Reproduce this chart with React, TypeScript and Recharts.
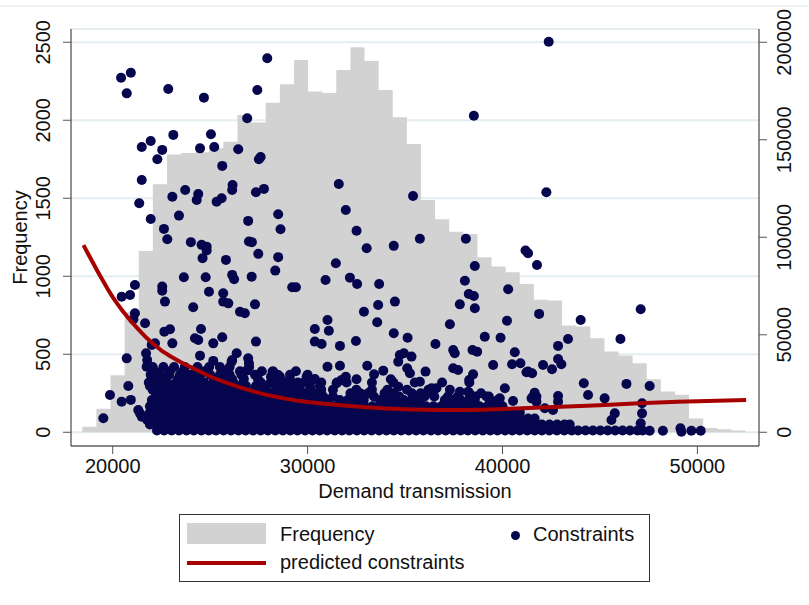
import React from "react";
import { ComposedChart, Area, Scatter, XAxis, YAxis, CartesianGrid } from "recharts";

// histogram of demand transmission (47 bins)
const binStart = 18440;
const binWidth = 724;
const frequency = [
  36, 150, 365, 770, 1162, 1590, 1780, 1790, 1795, 1820, 1863, 2034, 1985, 2113, 2231, 2387,
  2185, 2175, 2322, 2468, 2380, 2194, 2019, 1848, 1489, 1365, 1286, 1271, 1122, 1062, 1026, 951,
  850, 845, 685, 678, 603, 517, 492, 442, 340, 262, 240, 88, 28, 20, 12,
];

// fitted curve of constraints on demand transmission
const fitX = [
  18500, 18750, 19000, 19250, 19500, 19750, 20000, 20250, 20500, 20750, 21000, 21250, 21500, 21750,
  22000, 22500, 23000, 23500, 24000, 24500, 25000, 25500, 26000, 26500, 27000, 27500, 28000, 28500,
  29000, 29500, 30000, 31000, 32000, 33000, 34000, 35000, 36000, 37000, 38000, 39000, 40000, 41000,
  42000, 43000, 44000, 45000, 46000, 47000, 48000, 49000, 50000, 51000, 52000, 52500,
];
const fitY = [
  96000, 91300, 86700, 82100, 77700, 73400, 69300, 65700, 62300, 59200, 56300, 53500, 50800, 48300,
  46000, 41900, 38700, 35900, 33400, 31000, 28600, 26600, 24800, 23100, 21600, 20200, 19000, 18000,
  17000, 16200, 15500, 14500, 13600, 12800, 12200, 11800, 11500, 11400, 11400, 11600, 11900, 12300,
  12700, 13100, 13500, 13900, 14400, 14900, 15300, 15600, 15900, 16200, 16400, 16600,
];

// individual constraint observations [demand, constraints]
const sparsePoints: [number, number][] = [
  [27930, 191800], [20430, 181800], [20930, 184400], [20720, 173800], [22850, 176000], [24680, 171600], [27420, 175500], [26900, 161000],
  [21490, 146300], [21950, 149400], [22540, 144800], [22290, 140000], [23110, 152500], [24480, 145600], [25040, 152800], [25210, 146300],
  [26440, 145100], [25620, 136600], [27590, 141200], [27500, 140000],
  [21490, 129400], [21360, 117400], [23060, 120800], [23720, 124200], [24310, 119100], [24390, 122200], [25330, 118200], [25590, 120000],
  [26150, 126800], [26130, 124200], [27350, 123100], [27760, 124800],
  [21950, 109400], [22630, 104300], [22800, 99000], [23400, 111100], [26950, 108400], [26990, 97800], [27140, 97500], [27470, 91500],
  [28490, 111800], [28610, 104100], [28490, 89800], [28340, 82900],
  [24010, 97500], [24560, 96100], [24820, 95200], [24820, 93200], [24610, 89300], [25810, 88400], [23650, 79500], [24770, 79500],
  [26130, 80700], [26230, 78500], [27130, 79800],
  [21140, 75500], [20890, 70400], [20460, 69500], [22540, 74700], [22540, 72600], [22680, 67000], [24940, 72100], [25670, 71300],
  [25670, 67000], [25930, 66100], [24130, 64100], [26530, 61800], [26780, 61000], [27300, 65600], [29210, 74400], [29400, 74400],
  [21140, 61000], [21060, 57900], [21660, 55900], [22650, 51600], [22940, 52800], [24530, 53000], [24220, 48200], [24390, 47300],
  [25160, 45600], [25620, 48700], [27350, 46500], [23060, 45600], [22170, 45600], [30370, 53000], [30370, 46500],
  [20720, 37900], [21710, 40500], [21770, 37100], [24480, 39300], [25160, 36600], [26360, 40500], [26130, 37100], [26950, 37900],
  [26990, 35400], [28200, 31100], [28580, 28500], [29950, 28500], [29860, 25900],
  [19860, 19100], [20800, 23700], [20460, 15700], [20930, 16600], [19520, 7200], [21310, 11400], [21490, 8000],
  [38530, 162300], [31600, 127300], [31960, 114000], [32510, 103300], [33030, 94400], [35410, 121200], [34420, 95600], [35760, 99200],
  [38120, 99200], [38580, 85300], [31450, 86700], [30920, 78100], [32170, 79300], [32540, 76000], [33670, 76000], [34480, 67000],
  [33620, 65300], [32890, 61800], [33570, 56400],
  [38070, 77700], [38270, 70900], [38530, 69900], [37810, 65600], [38580, 63600], [40290, 73300], [40230, 57200], [37300, 55400],
  [31020, 57600], [31090, 52100], [30720, 45300], [31660, 44300], [32480, 46800], [34420, 50800], [35130, 48500], [36560, 45300],
  [37470, 42200], [37550, 40500], [38460, 42200], [38700, 41300], [39090, 49000], [39900, 48500], [39520, 34500],
  [31020, 33600], [31660, 34100], [33060, 34100], [33410, 29700], [33880, 31600], [32510, 27200], [31960, 28500], [31740, 26800],
  [31490, 25100], [34730, 39600], [34940, 40500], [35330, 38800], [34650, 36200], [35250, 30300], [35110, 32800], [36050, 31100],
  [35760, 25900], [37470, 32800], [37720, 31900], [38490, 29700], [38290, 26800],
  [28240, 31100], [29180, 23400], [34270, 27200], [34650, 23400], [36360, 22600], [36610, 22600], [37810, 20800], [38240, 20800],
  [39180, 18300], [39860, 17400], [40120, 22600],
  [41180, 93200], [41310, 91800], [41770, 85800], [41880, 60700], [40630, 41000], [40490, 34900], [40920, 35400], [41310, 31100],
  [41520, 30300], [40540, 16000], [39950, 8900], [41570, 18300],
  [42370, 200300], [42250, 123100], [47090, 63100], [44010, 57600], [43360, 47800], [46050, 47800], [42850, 44300], [42850, 37600],
  [43020, 34900], [41230, 30800], [42540, 32300], [44170, 25100], [44390, 19100], [45240, 17400], [46360, 24800], [47550, 23700],
  [41650, 20300], [41740, 18300], [41490, 17400], [41740, 15700], [42850, 18600], [42850, 15700], [45760, 9700], [45590, 6300],
  [47160, 14900], [47160, 9700], [47090, 4600], [42590, 11400], [42170, 12300], [47550, 800], [48230, 800], [49130, 2000],
  [49180, 300], [49690, 800], [50170, 800], [42080, 34500],
  [22000, 44800], [26870, 31600], [28120, 28500], [28490, 29400], [28410, 23700], [28580, 26800], [26100, 36200], [21400, 9700],
  [21770, 6300], [21710, 8000], [21740, 33600],
];

// the dense mass of small values near zero, read row by row
const bandRows: { y: number; xs: number[] }[] = [
  {
    y: 900,
    xs: [22270, 22640, 23020, 23400, 23790, 24160, 24550, 24930, 25300, 25690, 26070, 26450, 26820, 27200, 27590, 27960, 28340,
      28730, 29110, 29480, 29870, 30250, 30620, 31000, 31390, 31770, 32140, 32530, 32900, 33280, 33670, 34050, 34420, 34800,
      35190, 35570, 35940, 36330, 36700, 37080, 37470, 37850, 38220, 38600, 38990, 39370, 39740, 40130, 40500, 40880, 41270,
      41650, 42020, 42400, 42790, 43170, 43550, 43880, 44260, 44640, 45020, 45400, 45780, 46160, 46540, 46920, 47190],
  },
  {
    y: 4000,
    xs: [21910, 22300, 22690, 23080, 23460, 23850, 24240, 24620, 25010, 25400, 25780, 26170, 26560, 26940, 27330, 27720, 28100,
      28490, 28880, 29260, 29650, 30040, 30420, 30810, 31200, 31580, 31970, 32360, 32740, 33130, 33520, 33900, 34290, 34680,
      35060, 35450, 35840, 36220, 36610, 37000, 37380, 37770, 38160, 38540, 38930, 39320, 39700, 40090, 40480, 40860, 41250,
      41640, 42020, 42410, 42800, 43180, 43450],
  },
  {
    y: 7100,
    xs: [21810, 22200, 22590, 22980, 23370, 23760, 24150, 24540, 24930, 25320, 25710, 26100, 26490, 26880, 27270, 27660, 28050,
      28440, 28830, 29220, 29610, 30000, 30390, 30780, 31170, 31560, 31950, 32340, 32730, 33120, 33510, 33900, 34290, 34680,
      35070, 35460, 35850, 36240, 36630, 37020, 37410, 37800, 38190, 38580, 38970, 39360, 39750, 40140, 40530, 40920, 41310, 41650],
  },
  {
    y: 10200,
    xs: [21910, 22280, 22660, 23040, 23420, 23800, 24180, 24560, 24940, 25320, 25700, 26080, 26460, 26840, 27220, 27600, 27980,
      28360, 28740, 29120, 29500, 29880, 30260, 30640, 31020, 31400, 31780, 32160, 32540, 32920, 33300, 33680, 34060, 34440,
      34820, 35200, 35580, 35960, 36340, 36720, 37100, 37480, 37860, 38240, 38620, 39000, 39380, 39760, 40140, 40520, 40890],
  },
  {
    y: 13300,
    xs: [21910, 22300, 22700, 23090, 23480, 23880, 24270, 24660, 25060, 25450, 25840, 26240, 26630, 27020, 27420, 27810, 28200,
      28600, 28990, 29380, 29780, 30170, 30560, 30960, 31350, 31740, 32140, 32530, 32920, 33320, 33710, 34100, 34500, 34890,
      35280, 35680, 36070, 36460, 36860, 37250, 37640, 38040, 38430, 38820, 39220, 39610, 40000],
  },
  {
    y: 16500,
    xs: [22010, 22420, 22830, 23240, 23650, 24060, 24470, 24880, 25290, 25700, 26110, 26520, 26930, 27340, 27750, 28160, 28570,
      28980, 29390, 29800, 30210, 30620, 31030, 31650, 32060, 32470, 32880, 33710, 34120, 34530, 34940, 35350, 35760, 37040,
      37450, 37860, 38270, 38580, 39350, 39760],
  },
  {
    y: 18300,
    xs: [22200, 22700, 23150, 23600, 24100, 24600, 25050, 25500, 26000, 26450, 26950, 27450, 27900, 28400, 28850, 29350, 29800,
      30300, 30800, 31300, 32300, 32800, 33400, 34200, 34700, 35500, 36000, 36500, 37200, 37700, 38600, 39300],
  },
  {
    y: 20000,
    xs: [22320, 22800, 23250, 23700, 24200, 24650, 25150, 25600, 26100, 26550, 27100, 27600, 28100, 28700, 29300, 29900, 30500,
      32200, 32700, 33100, 33950, 34400, 35350, 35800, 36150, 38300, 38900],
  },
  {
    y: 21800,
    xs: [22050, 22550, 23000, 23450, 23950, 24400, 24900, 25350, 25850, 26300, 26800, 27300, 27800, 28350, 29000, 29600, 30150,
      30700, 31300, 32500, 33300, 34100, 35100, 36200, 37300],
  },
  {
    y: 23700,
    xs: [21910, 22320, 22730, 23190, 23600, 24060, 24480, 24990, 25400, 25910, 26320, 26840, 27350, 27860, 28730, 29600, 30120, 30630],
  },
  {
    y: 25500,
    xs: [21850, 22300, 22800, 23250, 23750, 24250, 24700, 25250, 25700, 26200, 26700, 27600, 28100, 28900, 29500, 30100, 30700,
      31500, 32000, 33300, 34400, 35500, 36900, 38300],
  },
  { y: 27300, xs: [22010, 22530, 23350, 23860, 24370, 25190, 25600, 26120, 26730, 27450, 29090, 30370] },
  { y: 29500, xs: [21950, 22450, 22900, 23450, 23950, 24500, 25000, 25500, 26000, 26600, 27300, 28400, 29100, 30000] },
  { y: 31300, xs: [22170, 22940, 23600, 24270, 24730, 25810, 26530, 27650, 29400] },
  { y: 33500, xs: [22050, 22600, 23150, 23700, 24350, 24950, 25500, 26000, 27000] },
];

const xTicks = [20000, 30000, 40000, 50000];
const leftTicks = [0, 500, 1000, 1500, 2000, 2500];
const rightTicks = [0, 50000, 100000, 150000, 200000];

const histData = frequency
  .map((f, i) => ({ x: binStart + i * binWidth, f }))
  .concat([{ x: binStart + frequency.length * binWidth, f: frequency[frequency.length - 1] }]);
const fitData = fitX.map((x, i) => ({ x, y: fitY[i] }));
const scatterData = [
  ...bandRows.flatMap((r) => r.xs.map((x) => ({ x, y: r.y }))),
  ...sparsePoints.map(([x, y]) => ({ x, y })),
];

const FONT = "'Liberation Sans', Arial, sans-serif";
const NAVY = "#06064f";
const RED = "#a60000";
const GRAY = "#d2d2d2";

const VTick = (props: any) => {
  const { x, y, payload } = props;
  return (
    <text x={x} y={y} transform={`rotate(-90 ${x} ${y})`} textAnchor="middle" fontSize={20} fontFamily={FONT} fill="#111">
      {payload.value}
    </text>
  );
};

const XTick = (props: any) => {
  const { x, y, payload } = props;
  return (
    <text x={x} y={y} dy="0.71em" textAnchor="middle" fontSize={20} fontFamily={FONT} fill="#111">
      {payload.value}
    </text>
  );
};

const FreqLabel = (props: any) => {
  const vb = props.viewBox || { x: 0, y: 29, width: 71, height: 417 };
  const cx = vb.x + 27;
  const cy = vb.y + vb.height / 2;
  return (
    <text x={cx} y={cy} transform={`rotate(-90 ${cx} ${cy})`} textAnchor="middle" fontSize={20} fontFamily={FONT} fill="#111">
      Frequency
    </text>
  );
};

const Dot = (props: any) => <circle cx={props.cx} cy={props.cy} r={5} fill={NAVY} />;
const NoDot = () => <g />;

export default function App() {
  return (
    <div style={{ position: "fixed", left: 0, top: 0, width: 809, height: 605, background: "#fff", fontFamily: FONT }}>
      <div style={{ position: "absolute", left: 0, top: 5, width: 809, height: 2, background: "#eef3f5" }} />
      <ComposedChart width={809} height={605} data={histData} margin={{ top: 29, right: 0, bottom: 99, left: 0 }}>
        <CartesianGrid yAxisId="left" vertical={false} stroke="#e4edf0" strokeWidth={2} />
        <XAxis
          dataKey="x"
          type="number"
          domain={[17860, 53160]}
          allowDataOverflow
          ticks={xTicks}
          height={60}
          tickSize={8}
          tickMargin={5}
          tick={<XTick />}
          axisLine={{ stroke: "#222" }}
          tickLine={{ stroke: "#555" }}
          label={{ value: "Demand transmission", position: "insideBottom", offset: 8, fontSize: 20, fill: "#111", fontFamily: FONT }}
        />
        <YAxis
          yAxisId="left"
          orientation="left"
          type="number"
          domain={[-88, 2585]}
          allowDataOverflow
          ticks={leftTicks}
          width={71}
          tickSize={8}
          tickMargin={13}
          tick={<VTick />}
          axisLine={{ stroke: "#222" }}
          tickLine={{ stroke: "#555" }}
          label={<FreqLabel />}
        />
        <YAxis
          yAxisId="right"
          orientation="right"
          type="number"
          domain={[-7040, 206800]}
          allowDataOverflow
          ticks={rightTicks}
          width={50}
          tickSize={8}
          tickMargin={24}
          tick={<VTick />}
          axisLine={{ stroke: "#222" }}
          tickLine={{ stroke: "#555" }}
        />
        <Area
          yAxisId="left"
          dataKey="f"
          type="stepAfter"
          fill={GRAY}
          fillOpacity={1}
          stroke="none"
          isAnimationActive={false}
        />
        <Scatter yAxisId="right" data={scatterData} dataKey="y" shape={Dot} isAnimationActive={false} />
        <Scatter
          yAxisId="right"
          data={fitData}
          dataKey="y"
          shape={NoDot}
          line={{ stroke: RED, strokeWidth: 4, strokeLinejoin: "round", fill: "none" }}
          lineType="joint"
          isAnimationActive={false}
        />
      </ComposedChart>
      <div
        style={{
          position: "absolute",
          left: 179,
          top: 514,
          width: 469,
          height: 66,
          border: "1px solid #333",
          background: "#fff",
          fontSize: 20,
          color: "#111",
        }}
      >
        <div style={{ position: "absolute", left: 7, top: 8, width: 79, height: 21, background: GRAY }} />
        <div style={{ position: "absolute", left: 100, top: 8, lineHeight: "23px" }}>Frequency</div>
        <div style={{ position: "absolute", left: 331, top: 16, width: 9, height: 9, borderRadius: "50%", background: NAVY }} />
        <div style={{ position: "absolute", left: 353, top: 8, lineHeight: "23px" }}>Constraints</div>
        <div style={{ position: "absolute", left: 7, top: 46, width: 79, height: 4, background: RED }} />
        <div style={{ position: "absolute", left: 100, top: 36, lineHeight: "23px" }}>predicted constraints</div>
      </div>
    </div>
  );
}
